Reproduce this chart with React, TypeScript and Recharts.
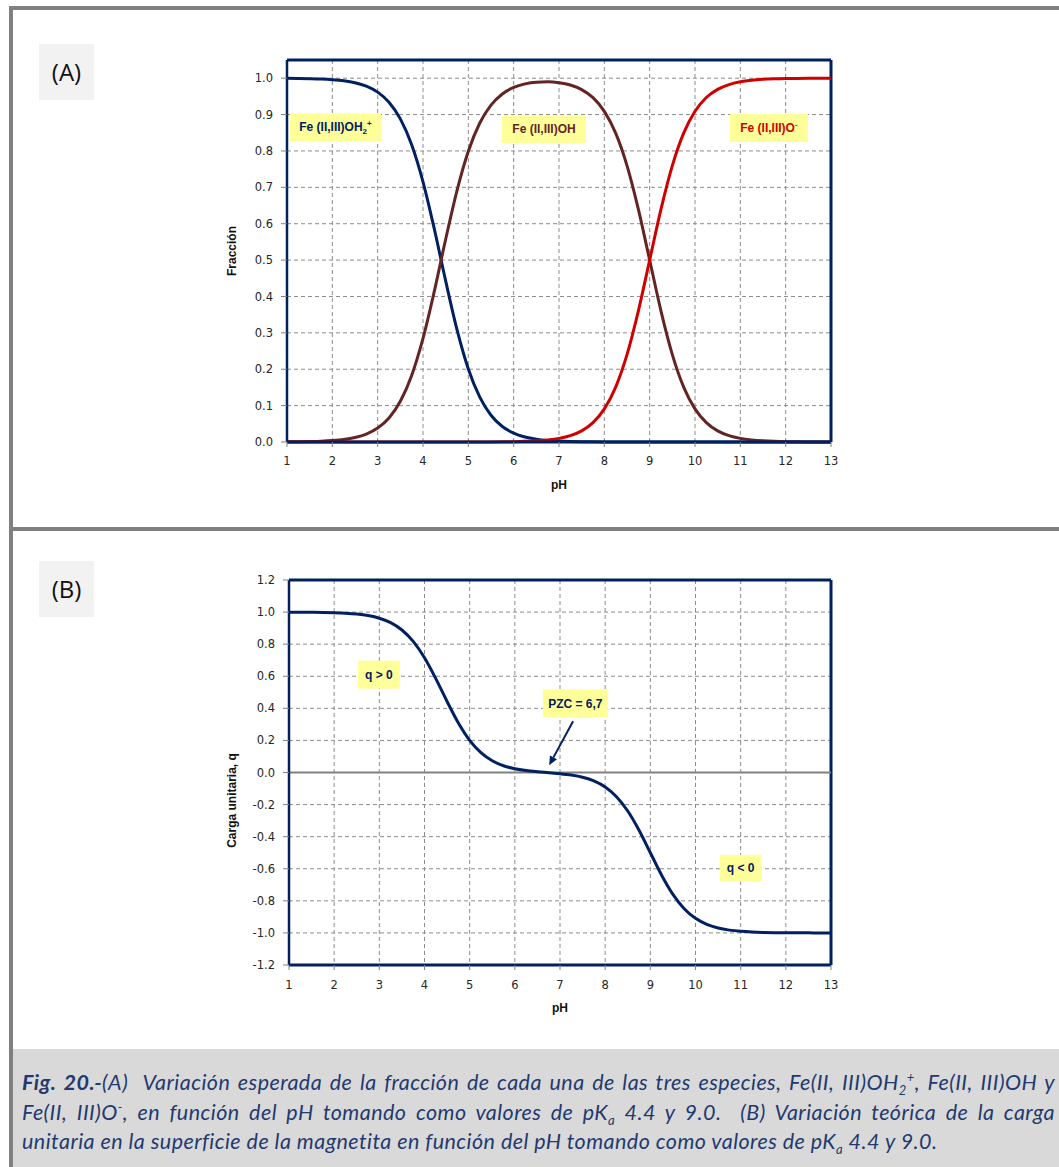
import React from 'react';
import {
  LineChart, Line, XAxis, YAxis, CartesianGrid, ReferenceLine, ReferenceDot, Label
} from 'recharts';

// pH values sampled along the x axis
const PH = [
  1, 1.25, 1.5, 1.75, 2, 2.25, 2.5, 2.75, 3, 3.25, 3.5, 3.75, 4, 4.25, 4.5, 4.75,
  5, 5.25, 5.5, 5.75, 6, 6.25, 6.5, 6.75, 7, 7.25, 7.5, 7.75, 8, 8.25, 8.5, 8.75,
  9, 9.25, 9.5, 9.75, 10, 10.25, 10.5, 10.75, 11, 11.25, 11.5, 11.75, 12, 12.25, 12.5, 12.75, 13,
];

// (A) fraction of Fe(II,III)OH2+
const FRAC_OH2 = [
  0.9996, 0.9993, 0.9987, 0.9978, 0.996, 0.993, 0.9876, 0.9781, 0.9617, 0.9339, 0.8882, 0.8171, 0.7153,
  0.5855, 0.4427, 0.3088, 0.2007, 0.1238, 0.0736, 0.0427, 0.0245, 0.0139, 0.0079, 0.0044, 0.0025,
  0.0014, 0.0008, 0.0004, 0.0002, 0.0001, 0.0001, 0, 0, 0, 0, 0, 0,
  0, 0, 0, 0, 0, 0, 0, 0, 0, 0, 0, 0,
];

// (A) fraction of Fe(II,III)OH
const FRAC_OH = [
  0.0004, 0.0007, 0.0013, 0.0022, 0.004, 0.007, 0.0124, 0.0219, 0.0383, 0.0661, 0.1118, 0.1829, 0.2847,
  0.4145, 0.5573, 0.6912, 0.7992, 0.8761, 0.9261, 0.9567, 0.9745, 0.9843, 0.989, 0.99, 0.9876,
  0.9812, 0.9686, 0.9464, 0.9089, 0.8489, 0.7597, 0.64, 0.5, 0.36, 0.2403, 0.151, 0.0909,
  0.0532, 0.0307, 0.0175, 0.0099, 0.0056, 0.0032, 0.0018, 0.001, 0.0006, 0.0003, 0.0002, 0.0001,
];

// (A) fraction of Fe(II,III)O-
const FRAC_O = [
  0, 0, 0, 0, 0, 0, 0, 0, 0, 0, 0, 0, 0, 0, 0, 0,
  0.0001, 0.0002, 0.0003, 0.0005, 0.001, 0.0018, 0.0031, 0.0056, 0.0099,
  0.0175, 0.0306, 0.0532, 0.0909, 0.151, 0.2402, 0.3599, 0.5, 0.64, 0.7597, 0.849, 0.9091,
  0.9468, 0.9693, 0.9825, 0.9901, 0.9944, 0.9968, 0.9982, 0.999, 0.9994, 0.9997, 0.9998, 0.9999,
];

// (B) unit surface charge q
const CHARGE = [
  0.9996, 0.9993, 0.9987, 0.9978, 0.996, 0.993, 0.9876, 0.9781, 0.9617, 0.9339, 0.8882, 0.8171, 0.7153,
  0.5855, 0.4427, 0.3088, 0.2006, 0.1236, 0.0733, 0.0422, 0.0235, 0.0121, 0.0047, -0.0012, -0.0074,
  -0.0161, -0.0298, -0.0528, -0.0907, -0.1509, -0.2401, -0.3599, -0.5, -0.64, -0.7597, -0.849, -0.9091,
  -0.9468, -0.9693, -0.9825, -0.9901, -0.9944, -0.9968, -0.9982, -0.999, -0.9994, -0.9997, -0.9998, -0.9999,
];

const X_TICKS = [1, 2, 3, 4, 5, 6, 7, 8, 9, 10, 11, 12, 13];
const FRAC_TICKS = [0, 0.1, 0.2, 0.3, 0.4, 0.5, 0.6, 0.7, 0.8, 0.9, 1.0];
const CHARGE_TICKS = [-1.2, -1.0, -0.8, -0.6, -0.4, -0.2, 0, 0.2, 0.4, 0.6, 0.8, 1.0, 1.2];

const fracData = PH.map((ph, i) => ({ ph, oh2: FRAC_OH2[i], oh: FRAC_OH[i], o: FRAC_O[i] }));
const chargeData = PH.map((ph, i) => ({ ph, q: CHARGE[i] }));

const NAVY = '#002060';
const BROWN = '#632523';
const RED = '#d00000';
const GRID = '#8c8c8c';
const TICK_FONT = { fontSize: 11.5, fontFamily: 'DejaVu Sans, sans-serif', fill: '#262626' };
const TITLE_FONT = { fontSize: 12, fontFamily: 'Liberation Sans, Arial, sans-serif', fontWeight: 700, fill: '#111' };

const BoxLabel = (props: any) => {
  const { viewBox, w, h, color, children } = props;
  const cx = viewBox.x + (viewBox.width || 0) / 2;
  const cy = viewBox.y + (viewBox.height || 0) / 2;
  return (
    <g>
      <rect x={cx - w / 2} y={cy - h / 2} width={w} height={h} fill="#ffff99" />
      <text x={cx} y={cy + 4} textAnchor="middle" fill={color}
        style={{ fontSize: 12, fontFamily: 'Liberation Sans, Arial, sans-serif', fontWeight: 700 }}>
        {children}
      </text>
    </g>
  );
};

const yTitle = (text: string, shift: number) => (p: any) => {
  const vb = p.viewBox;
  const x = vb.x + 12;
  const y = vb.y + vb.height / 2 + shift;
  return (
    <text x={x} y={y} transform={`rotate(-90, ${x}, ${y})`} textAnchor="middle" dominantBaseline="central"
      style={TITLE_FONT}>
      {text}
    </text>
  );
};

const Arrow = (p: any) => {
  const { x1, y1, x2, y2 } = p;
  const ang = Math.atan2(y2 - y1, x2 - x1);
  const len = 9, wid = 4;
  const bx = x2 - len * Math.cos(ang), by = y2 - len * Math.sin(ang);
  const px = -Math.sin(ang) * wid, py = Math.cos(ang) * wid;
  return (
    <g>
      <line x1={x1} y1={y1} x2={bx} y2={by} stroke={NAVY} strokeWidth={2} />
      <polygon points={`${x2},${y2} ${bx + px},${by + py} ${bx - px},${by - py}`} fill={NAVY} />
    </g>
  );
};

const TagBox: React.FC<{ text: string; top: number }> = ({ text, top }) => (
  <div style={{
    position: 'absolute', left: 39, top, width: 55, height: 56, background: '#f2f2f2',
    fontFamily: 'Open Sans, sans-serif', fontSize: 24, lineHeight: '56px', textAlign: 'center', color: '#111',
  }}>{text}</div>
);

const lineStyle = { textAlign: 'justify' as const, textAlignLast: 'justify' as const, height: 29.5 };
const SUB = { fontSize: 13, lineHeight: 0 };

export default function App() {
  return (
    <div style={{ position: 'absolute', left: 0, top: 0, width: 1059, height: 1167, background: '#fff', overflow: 'hidden' }}>
      {/* frame */}
      <div style={{ position: 'absolute', left: 9, top: 6, width: 1050, height: 4, background: '#808080' }} />
      <div style={{ position: 'absolute', left: 9, top: 6, width: 4, height: 1161, background: '#808080' }} />
      <div style={{ position: 'absolute', left: 9, top: 527, width: 1050, height: 4, background: '#808080' }} />

      <TagBox text="(A)" top={44} />
      <TagBox text="(B)" top={561} />

      <div style={{ position: 'absolute', left: 200, top: 40 }}>
        <LineChart width={680} height={470} data={fracData} margin={{ top: 20, right: 49, left: 20, bottom: 18 }}>
          <CartesianGrid stroke={GRID} strokeDasharray="4 3" />
          <XAxis dataKey="ph" type="number" domain={[1, 13]} ticks={X_TICKS} height={50}
            axisLine={{ stroke: NAVY, strokeWidth: 3 }} tickLine={{ stroke: '#808080' }} tickSize={5} tickMargin={10}
            tick={TICK_FONT}>
            <Label value="pH" position="insideBottom" offset={3} style={TITLE_FONT} />
          </XAxis>
          <YAxis type="number" domain={[0, 1.05]} ticks={FRAC_TICKS} width={67}
            tickFormatter={(v: number) => v.toFixed(1)}
            axisLine={{ stroke: NAVY, strokeWidth: 2.5 }} tickLine={{ stroke: '#808080' }} tickSize={6} tickMargin={8}
            tick={TICK_FONT}>
            <Label content={yTitle('Fracción', 0)} />
          </YAxis>
          <ReferenceLine y={1.05} stroke={NAVY} strokeWidth={3} />
          <ReferenceLine x={13} stroke={NAVY} strokeWidth={3} />
          <Line dataKey="oh2" type="monotone" stroke={NAVY} strokeWidth={3} dot={false} isAnimationActive={false} />
          <Line dataKey="oh" type="monotone" stroke={BROWN} strokeWidth={3} dot={false} isAnimationActive={false} />
          <Line dataKey="o" type="monotone" stroke={RED} strokeWidth={3} dot={false} isAnimationActive={false} />
          <ReferenceDot x={2.07} y={0.865} r={0} stroke="none"
            label={<BoxLabel w={91} h={28} color={NAVY}>
              <tspan>Fe (II,III)OH</tspan><tspan dy={3} fontSize={8}>2</tspan><tspan dy={-8} fontSize={8}>+</tspan>
            </BoxLabel>} />
          <ReferenceDot x={6.67} y={0.86} r={0} stroke="none"
            label={<BoxLabel w={84} h={28} color={BROWN}><tspan>Fe (II,III)OH</tspan></BoxLabel>} />
          <ReferenceDot x={11.63} y={0.863} r={0} stroke="none"
            label={<BoxLabel w={78} h={28} color={RED}>
              <tspan>Fe (II,III)O</tspan><tspan dy={-5} fontSize={8}>-</tspan>
            </BoxLabel>} />
        </LineChart>
      </div>

      <div style={{ position: 'absolute', left: 200, top: 560 }}>
        <LineChart width={680} height={470} data={chargeData} margin={{ top: 20, right: 49, left: 20, bottom: 15 }}>
          <CartesianGrid stroke={GRID} strokeDasharray="4 3" />
          <XAxis dataKey="ph" type="number" domain={[1, 13]} ticks={X_TICKS} height={50}
            axisLine={{ stroke: NAVY, strokeWidth: 3 }} tickLine={{ stroke: '#808080' }} tickSize={5} tickMargin={11}
            tick={TICK_FONT}>
            <Label value="pH" position="insideBottom" offset={3} style={TITLE_FONT} />
          </XAxis>
          <YAxis type="number" domain={[-1.2, 1.2]} ticks={CHARGE_TICKS} width={69}
            tickFormatter={(v: number) => v.toFixed(1)}
            axisLine={{ stroke: NAVY, strokeWidth: 2.5 }} tickLine={{ stroke: '#808080' }} tickSize={6} tickMargin={8}
            tick={TICK_FONT}>
            <Label content={yTitle('Carga unitaria, q', 28)} />
          </YAxis>
          <ReferenceLine y={1.2} stroke={NAVY} strokeWidth={3} />
          <ReferenceLine x={13} stroke={NAVY} strokeWidth={3} />
          <ReferenceLine y={0} stroke="#808080" strokeWidth={2} />
          <Line dataKey="q" type="monotone" stroke={NAVY} strokeWidth={3} dot={false} isAnimationActive={false} />
          <ReferenceLine segment={[{ x: 7.29, y: 0.32 }, { x: 6.76, y: 0.045 }]} shape={Arrow} />
          <ReferenceDot x={2.99} y={0.61} r={0} stroke="none"
            label={<BoxLabel w={42} h={28} color={NAVY}><tspan>q &gt; 0</tspan></BoxLabel>} />
          <ReferenceDot x={7.34} y={0.43} r={0} stroke="none"
            label={<BoxLabel w={65} h={28} color={NAVY}><tspan>PZC = 6,7</tspan></BoxLabel>} />
          <ReferenceDot x={11.0} y={-0.597} r={0} stroke="none"
            label={<BoxLabel w={42} h={27} color={NAVY}><tspan>q &lt; 0</tspan></BoxLabel>} />
        </LineChart>
      </div>

      {/* caption */}
      <div style={{
        position: 'absolute', left: 13, top: 1049, width: 1046, height: 118, background: '#d9d9d9',
      }}>
        <div style={{
          position: 'absolute', left: 9, top: 19, width: 1033, fontFamily: 'Lato, sans-serif', fontStyle: 'italic',
          fontSize: 21.5, lineHeight: '29.5px', letterSpacing: 0.45, color: '#1f3a70',
        }}>
          <div style={lineStyle}>
            <b>Fig. 20.-</b>(A)&nbsp; Variación esperada de la fracción de cada una de las tres especies, Fe(II, III)OH<sub style={SUB}>2</sub><sup style={SUB}>+</sup>, Fe(II, III)OH y
          </div>
          <div style={lineStyle}>
            Fe(II, III)O<sup style={SUB}>-</sup>, en función del pH tomando como valores de pK<sub style={SUB}>a</sub> 4.4 y 9.0.&nbsp; (B) Variación teórica de la carga
          </div>
          <div style={{ height: 29.5 }}>
            unitaria en la superficie de la magnetita en función del pH tomando como valores de pK<sub style={SUB}>a</sub> 4.4 y 9.0.
          </div>
        </div>
      </div>
    </div>
  );
}
